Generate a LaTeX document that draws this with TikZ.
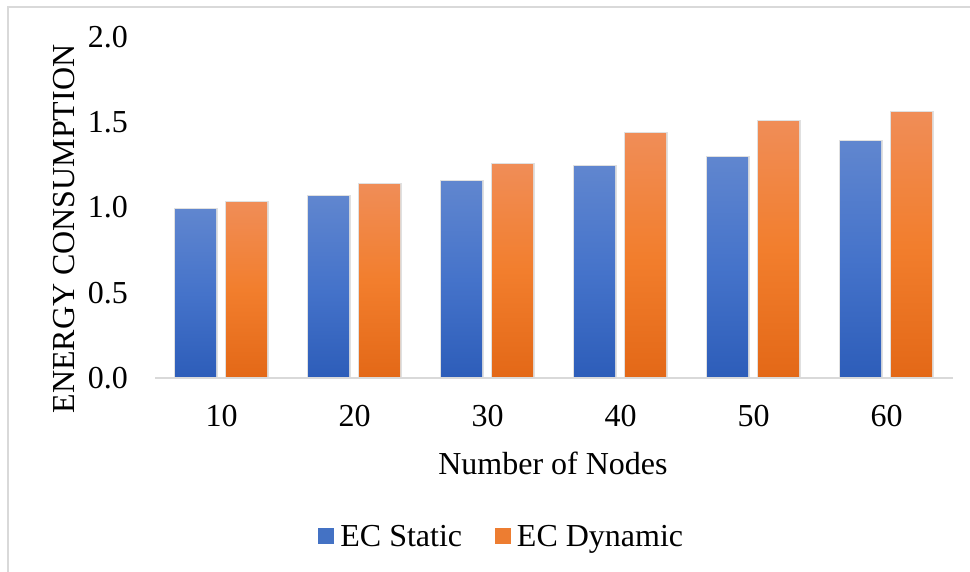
\documentclass[tikz,border=0pt]{standalone}
\usepackage{fontspec}
\setmainfont{Liberation Serif}
\usetikzlibrary{positioning}

\definecolor{statictop}{HTML}{6086CF}
\definecolor{staticmid}{HTML}{4573CA}
\definecolor{staticbot}{HTML}{2D5DB9}
\definecolor{dyntop}{HTML}{F08D57}
\definecolor{dynmid}{HTML}{F27E2D}
\definecolor{dynbot}{HTML}{E36817}
\definecolor{statickey}{HTML}{4472C4}
\definecolor{dynkey}{HTML}{ED7D31}
\definecolor{gridgray}{HTML}{D9D9D9}

\begin{document}
\begin{tikzpicture}[x=1pt,y=-1pt,
    every node/.style={font=\fontsize{32}{38}\selectfont,inner sep=0pt}]
  \tikzstyle{barB}=[minimum width=41pt,anchor=south west,
                    preaction={draw=black!12,line width=3pt}]
  \tikzstyle{staticbar}=[barB,top color=statictop,bottom color=staticbot,middle color=staticmid]
  \tikzstyle{dynbar}=[barB,top color=dyntop,bottom color=dynbot,middle color=dynmid]
  \tikzstyle{keybox}=[minimum size=16pt]
  \tikzstyle{keytext}=[text depth=0pt]
  \useasboundingbox (0,0) rectangle (970,572);

  % frame (cut off at right and bottom)
  \draw[gridgray,line width=1.5pt] (8,572) -- (8,7) -- (970,7);

  % bars
  \foreach \n/\s/\d [count=\i from 0] in {10/0.99/1.03, 20/1.065/1.135,
      30/1.15/1.253, 40/1.24/1.43, 50/1.292/1.504, 60/1.384/1.556} {
    \node[staticbar,minimum height={\s*170.5pt}] (s\n) at ({175+133*\i},378) {};
    \node[dynbar,minimum height={\d*170.5pt}] (d\n) at ({226+133*\i},378) {};
    \node (x\n) at ({221.5+133*\i},416) {\n};
  }

  % axis
  \coordinate (o) at (155,378);
  \coordinate (xend) at (953,378);
  \draw[gridgray,line width=1.5pt] (o) -- (xend);

  % y ticks
  \foreach \t [count=\i from 0] in {0.0,0.5,1.0,1.5,2.0}
    \node[anchor=east] (y\i) at (128,{378-\t*170.5}) {\t};

  % titles
  \node[rotate=90] (ytitle) at (64,229) {ENERGY CONSUMPTION};
  \node (xtitle) at (553,463) {Number of Nodes};

  % legend
  \node[keybox,fill=statickey] (ks) at (326,536) {};
  \node[keytext,right=6pt of ks] (ksl) {EC Static};
  \node[keybox,fill=dynkey,right=32pt of ksl] (kd) {};
  \node[keytext,right=6pt of kd] (kdl) {EC Dynamic};
\end{tikzpicture}
\end{document}
